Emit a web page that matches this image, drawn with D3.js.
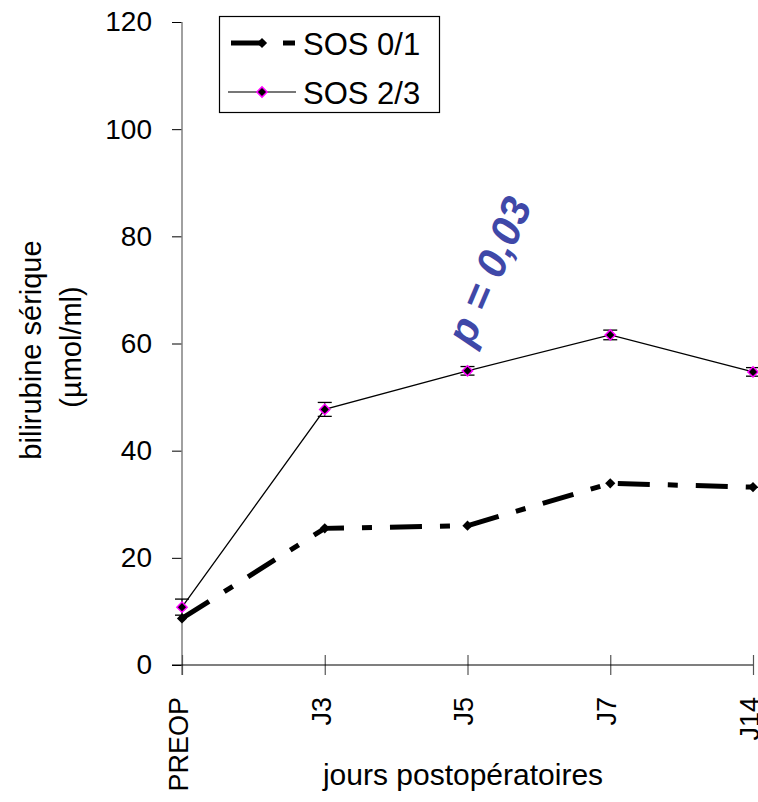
<!DOCTYPE html>
<html>
<head>
<meta charset="utf-8">
<script src="https://cdn.jsdelivr.net/npm/d3@7"></script>
<style>
  body { margin: 0; background: #fff; }
  svg { font-family: "Liberation Sans", Arial, sans-serif; }
</style>
</head>
<body>
<div class="graphic"></div>
<script>
// data
const days = ["PREOP", "J3", "J5", "J7", "J14"];
const sos01 = [8.7, 25.5, 26.0, 33.9, 33.2];
const sos23 = [10.8, 47.7, 54.9, 61.6, 54.7];
const sos23Err = [1.5, 1.3, 0.8, 0.9, 0.8];
const yTicks = [0, 20, 40, 60, 80, 100, 120];
const seriesNames = ["SOS 0/1", "SOS 2/3"];

const width = 758, height = 802;

const svg = d3.select(".graphic").append("svg")
    .attr("width", width)
    .attr("height", height);

const x = d3.scalePoint()
    .domain(days)
    .range([182, 753]);

const y = d3.scaleLinear()
    .domain([0, 120])
    .range([665, 22]);

// y axis
const yG = svg.append("g")
    .attr("transform", "translate(182,0)")
    .call(d3.axisLeft(y).tickValues(yTicks).tickSize(10).tickPadding(20).tickSizeOuter(0));
yG.select(".domain").remove();
yG.append("line")
    .attr("x1", 0).attr("x2", 0)
    .attr("y1", y(120)).attr("y2", 675)
    .attr("stroke", "#808080").attr("stroke-width", 1.5);
yG.selectAll(".tick line").attr("stroke", "#000");
yG.selectAll(".tick text")
    .attr("fill", "#000")
    .style("font-size", "28px")
    .style("font-family", "Liberation Sans, Arial, sans-serif");

// x axis
const xG = svg.append("g")
    .attr("transform", "translate(0," + y(0) + ")")
    .call(d3.axisBottom(x).tickSize(10).tickSizeOuter(0));
xG.select(".domain").remove();
xG.append("line")
    .attr("x1", 172).attr("x2", 753)
    .attr("y1", 0).attr("y2", 0)
    .attr("stroke", "#000").attr("stroke-width", 1.2);
xG.selectAll(".tick line")
    .attr("y1", -10).attr("y2", 10)
    .attr("stroke", "#555").attr("stroke-width", 1.2);
xG.selectAll(".tick text")
    .attr("fill", "#000")
    .attr("transform", "rotate(-90)")
    .attr("text-anchor", "end")
    .attr("x", -32)
    .attr("y", 0)
    .attr("dy", "0.2em")
    .style("font-size", "27px")
    .style("font-family", "Liberation Sans, Arial, sans-serif");

// axis titles
svg.append("text")
    .attr("x", 463)
    .attr("y", 785)
    .attr("text-anchor", "middle")
    .style("font-size", "30px")
    .text("jours postopératoires");

svg.append("text")
    .attr("transform", "translate(41,350) rotate(-90)")
    .attr("text-anchor", "middle")
    .style("font-size", "29px")
    .text("bilirubine sérique");

svg.append("text")
    .attr("transform", "translate(81,347) rotate(-90)")
    .attr("text-anchor", "middle")
    .style("font-size", "29px")
    .text("(µmol/ml)");

const line = d3.line()
    .x((d, i) => x(days[i]))
    .y(d => y(d));

// square turned 45 degrees, like the Excel diamond marker
const diamond = d3.symbol().type(d3.symbolSquare).size(52);

// SOS 2/3 error bars
const errG = svg.append("g");
sos23.forEach(function(v, i) {
    const cx = x(days[i]);
    errG.append("line")
        .attr("x1", cx).attr("x2", cx)
        .attr("y1", y(v - sos23Err[i])).attr("y2", y(v + sos23Err[i]))
        .attr("stroke", "#000").attr("stroke-width", 1);
    [v - sos23Err[i], v + sos23Err[i]].forEach(function(e) {
        errG.append("line")
            .attr("x1", cx - 7).attr("x2", cx + 7)
            .attr("y1", y(e)).attr("y2", y(e))
            .attr("stroke", "#000").attr("stroke-width", 1.3);
    });
});

// SOS 2/3 line
svg.append("path")
    .datum(sos23)
    .attr("d", line)
    .attr("fill", "none")
    .attr("stroke", "#000")
    .attr("stroke-width", 1.3);

svg.selectAll(".pt23")
    .data(sos23)
    .enter().append("path")
    .attr("class", "pt23")
    .attr("transform", (d, i) => "translate(" + x(days[i]) + "," + y(d) + ") rotate(45)")
    .attr("d", diamond)
    .attr("fill", "#000")
    .attr("stroke", "#ff00ff")
    .attr("stroke-width", 1.5);

// SOS 0/1 line
svg.append("path")
    .datum(sos01)
    .attr("d", line)
    .attr("fill", "none")
    .attr("stroke", "#000")
    .attr("stroke-width", 5)
    .attr("stroke-dasharray", "32,18,10,18");

svg.selectAll(".pt01")
    .data(sos01)
    .enter().append("path")
    .attr("class", "pt01")
    .attr("transform", (d, i) => "translate(" + x(days[i]) + "," + y(d) + ") rotate(45)")
    .attr("d", diamond)
    .attr("fill", "#000");

// p value annotation
svg.append("text")
    .attr("transform", "translate(472,348) rotate(-67)")
    .attr("fill", "#3f48a8")
    .style("font-size", "42px")
    .style("font-weight", "bold")
    .style("font-style", "italic")
    .text("p = 0,03");

// legend
const legend = svg.append("g");
legend.append("rect")
    .attr("x", 219.5).attr("y", 16.5)
    .attr("width", 220).attr("height", 96)
    .attr("fill", "#fff")
    .attr("stroke", "#000")
    .attr("stroke-width", 1.2);

legend.append("line")
    .attr("x1", 231).attr("x2", 262)
    .attr("y1", 43).attr("y2", 43)
    .attr("stroke", "#000").attr("stroke-width", 5);
legend.append("line")
    .attr("x1", 283).attr("x2", 295)
    .attr("y1", 43).attr("y2", 43)
    .attr("stroke", "#000").attr("stroke-width", 5);
legend.append("path")
    .attr("transform", "translate(262,43) rotate(45)")
    .attr("d", diamond)
    .attr("fill", "#000");

legend.append("line")
    .attr("x1", 228).attr("x2", 296)
    .attr("y1", 92).attr("y2", 92)
    .attr("stroke", "#777").attr("stroke-width", 2);
legend.append("path")
    .attr("transform", "translate(262,92) rotate(45)")
    .attr("d", diamond)
    .attr("fill", "#000")
    .attr("stroke", "#ff00ff")
    .attr("stroke-width", 1.5);

legend.selectAll(".leg-text")
    .data(seriesNames)
    .enter().append("text")
    .attr("class", "leg-text")
    .attr("x", 303)
    .attr("y", (d, i) => 55 + i * 49)
    .style("font-size", "31px")
    .text(d => d);
</script>
</body>
</html>
